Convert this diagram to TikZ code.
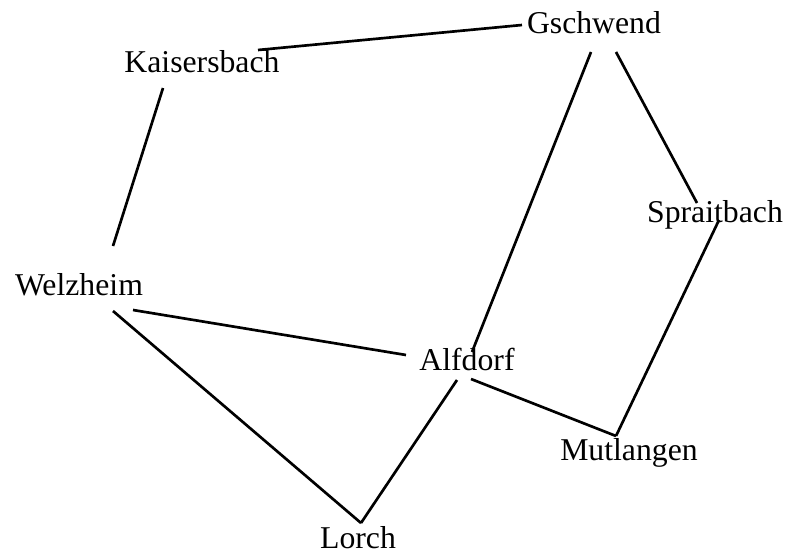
\documentclass[tikz,border=0pt]{standalone}
\usepackage{fontspec}
\setmainfont{Liberation Serif}
\begin{document}
\begin{tikzpicture}[x=0.75pt,y=-0.75pt,
  town/.style={inner sep=0pt,anchor=base,font=\fontsize{23.8}{28}\selectfont},
  road/.style={line width=2pt,black}]
\useasboundingbox (0,0) rectangle (789,553);
\node[town] (K) at (202,72) {Kaisersbach};
\node[town] (G) at (594,33) {Gschwend};
\node[town] (S) at (715,222) {Spraitbach};
\node[town] (W) at (79,295) {Welzheim};
\node[town] (A) at (467,370) {Alfdorf};
\node[town] (M) at (629,460) {Mutlangen};
\node[town] (L) at (358,548) {Lorch};
% connector end points
\coordinate (KG) at (258,50);  \coordinate (GK) at (522,25);
\coordinate (KW) at (163,88);  \coordinate (WK) at (113,246);
\coordinate (GA) at (591,52);  \coordinate (AG) at (472,352);
\coordinate (GS) at (616,52);  \coordinate (SG) at (697,203);
\coordinate (SM) at (719,220); \coordinate (MS) at (616,436);
\coordinate (WA) at (133,310); \coordinate (AW) at (406,355);
\coordinate (WL) at (113,311); \coordinate (LW) at (361,523);
\coordinate (AM) at (471,379); \coordinate (MA) at (616,436);
\coordinate (AL) at (457,380); \coordinate (LA) at (361,523);
\draw[road] (KG) -- (GK);
\draw[road] (KW) -- (WK);
\draw[road] (GA) -- (AG);
\draw[road] (GS) -- (SG);
\draw[road] (SM) -- (MS);
\draw[road] (WA) -- (AW);
\draw[road] (WL) -- (LW);
\draw[road] (AM) -- (MA);
\draw[road] (AL) -- (LA);
\end{tikzpicture}
\end{document}
